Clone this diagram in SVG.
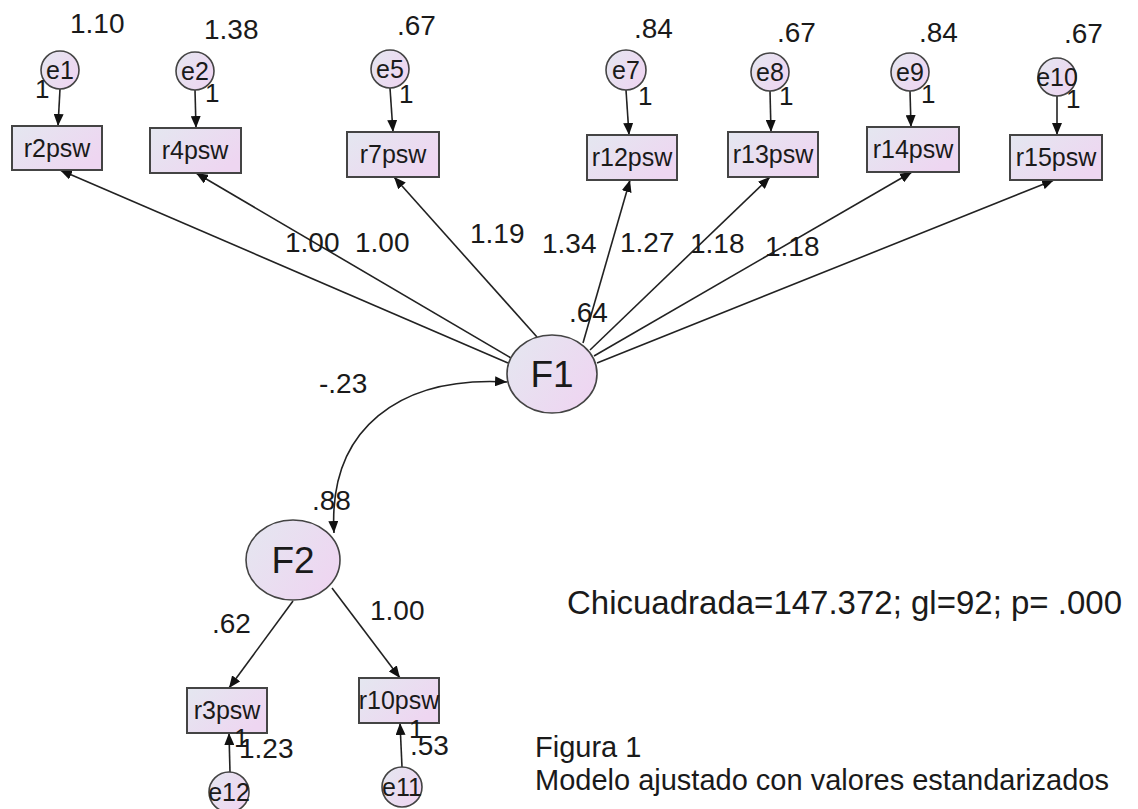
<svg xmlns="http://www.w3.org/2000/svg" width="1138" height="809" viewBox="0 0 1138 809">
<defs>
<linearGradient id="g" x1="0" y1="0" x2="1" y2="0.6">
<stop offset="0" stop-color="#e4e7f0"/>
<stop offset="1" stop-color="#eed6f1"/>
</linearGradient>
<marker id="ah" viewBox="0 0 12 10" refX="12" refY="5" markerWidth="12" markerHeight="10" markerUnits="userSpaceOnUse" orient="auto-start-reverse">
<path d="M0,0 L12,5 L0,10 Z" fill="#111"/>
</marker>
<style>
.box{fill:url(#g);stroke:#444;stroke-width:2}
.ell{fill:url(#g);stroke:#444;stroke-width:1.6}
.lt{font-family:"Liberation Sans",Arial,sans-serif;font-size:25px;fill:#1a1a1a;text-anchor:middle}
.et{font-family:"Liberation Sans",Arial,sans-serif;font-size:25px;fill:#1a1a1a;text-anchor:middle}
.ft{font-family:"Liberation Sans",Arial,sans-serif;font-size:37px;fill:#1a1a1a;text-anchor:middle}
.n{font-family:"Liberation Sans",Arial,sans-serif;font-size:28px;fill:#1a1a1a}
.one{font-family:"Liberation Sans",Arial,sans-serif;font-size:26px;fill:#1a1a1a}
.cap{font-family:"Liberation Sans",Arial,sans-serif;font-size:29px;fill:#1a1a1a}
.chi{font-family:"Liberation Sans",Arial,sans-serif;font-size:33px;fill:#1a1a1a}
.c{stroke:#222;stroke-width:1.6;fill:none;marker-end:url(#ah)}
.cc{stroke:#222;stroke-width:1.6;fill:none;marker-end:url(#ah);marker-start:url(#ah)}
</style>
</defs>
<rect width="1138" height="809" fill="#fff"/>
<g id="connectors">
<path class="c" d="M60,89 L58,126"/>
<path class="c" d="M195,90 L196,128"/>
<path class="c" d="M390,88 L393,132"/>
<path class="c" d="M626,90 L629,135"/>
<path class="c" d="M770,91 L771,132"/>
<path class="c" d="M910,91 L911,127"/>
<path class="c" d="M1057,96 L1057,135"/>
<path class="c" d="M508,363 L60,170"/>
<path class="c" d="M511,358 L196,173"/>
<path class="c" d="M537,337 L394,177"/>
<path class="c" d="M583,343 L630,180"/>
<path class="c" d="M590,350 L770,177"/>
<path class="c" d="M594,356 L912,172"/>
<path class="c" d="M597,363 L1054,180"/>
<path class="cc" d="M334,533 C328,428 400,376 507,382"/>
<path class="c" d="M293,601 L229,688"/>
<path class="c" d="M332,588 L400,678"/>
<path class="c" d="M230,772 L229,733"/>
<path class="c" d="M402,767 L400,723"/>
</g>
<g id="e1"><circle class="ell" cx="60" cy="70" r="19"/><text class="et" x="60" y="79">e1</text></g>
<g id="e2"><circle class="ell" cx="195" cy="71" r="19"/><text class="et" x="195" y="80">e2</text></g>
<g id="e5"><circle class="ell" cx="390" cy="69" r="19"/><text class="et" x="390" y="78">e5</text></g>
<g id="e7"><circle class="ell" cx="626" cy="70" r="20"/><text class="et" x="626" y="79">e7</text></g>
<g id="e8"><circle class="ell" cx="770" cy="72" r="19"/><text class="et" x="770" y="81">e8</text></g>
<g id="e9"><circle class="ell" cx="910" cy="72" r="19"/><text class="et" x="910" y="81">e9</text></g>
<g id="e10"><circle class="ell" cx="1057" cy="77" r="19"/><text class="et" x="1057" y="86">e10</text></g>
<g id="r2psw"><rect class="box" x="12" y="126" width="90" height="44"/><text class="lt" x="57" y="157">r2psw</text></g>
<g id="r4psw"><rect class="box" x="150" y="128" width="91" height="45"/><text class="lt" x="195" y="159">r4psw</text></g>
<g id="r7psw"><rect class="box" x="347" y="132" width="92" height="45"/><text class="lt" x="393" y="163">r7psw</text></g>
<g id="r12psw"><rect class="box" x="587" y="135" width="90" height="45"/><text class="lt" x="632" y="166">r12psw</text></g>
<g id="r13psw"><rect class="box" x="728" y="132" width="90" height="45"/><text class="lt" x="773" y="163">r13psw</text></g>
<g id="r14psw"><rect class="box" x="867" y="127" width="92" height="45"/><text class="lt" x="913" y="158">r14psw</text></g>
<g id="r15psw"><rect class="box" x="1010" y="135" width="92" height="45"/><text class="lt" x="1056" y="166">r15psw</text></g>
<g id="F1"><ellipse class="ell" cx="552" cy="374" rx="45" ry="39"/><text class="ft" x="552" y="387">F1</text></g>
<g id="F2"><ellipse class="ell" cx="293" cy="560" rx="47" ry="40"/><text class="ft" x="293" y="573">F2</text></g>
<g id="r3psw"><rect class="box" x="187" y="688" width="80" height="45"/><text class="lt" x="227" y="719">r3psw</text></g>
<g id="r10psw"><rect class="box" x="359" y="678" width="80" height="45"/><text class="lt" x="399" y="709">r10psw</text></g>
<g id="e12"><circle class="ell" cx="229" cy="792" r="20"/><text class="et" x="229" y="801">e12</text></g>
<g id="e11"><circle class="ell" cx="402" cy="787" r="20"/><text class="et" x="402" y="796">e11</text></g>
<g id="labels">
<text class="n" x="70" y="33">1.10</text>
<text class="n" x="204" y="39">1.38</text>
<text class="n" x="397" y="35">.67</text>
<text class="n" x="634" y="38">.84</text>
<text class="n" x="777" y="42">.67</text>
<text class="n" x="919" y="42">.84</text>
<text class="n" x="1064" y="43">.67</text>
<text class="one" x="35" y="98">1</text>
<text class="one" x="205" y="102">1</text>
<text class="one" x="399" y="103">1</text>
<text class="one" x="638" y="105">1</text>
<text class="one" x="779" y="105">1</text>
<text class="one" x="921" y="103">1</text>
<text class="one" x="1066" y="108">1</text>
<text class="n" x="285" y="252">1.00</text>
<text class="n" x="355" y="252">1.00</text>
<text class="n" x="470" y="243">1.19</text>
<text class="n" x="542" y="253">1.34</text>
<text class="n" x="620" y="252">1.27</text>
<text class="n" x="690" y="253">1.18</text>
<text class="n" x="765" y="256">1.18</text>
<text class="n" x="569" y="322">.64</text>
<text class="n" x="319" y="393">-.23</text>
<text class="n" x="312" y="510">.88</text>
<text class="n" x="212" y="633">.62</text>
<text class="n" x="370" y="620">1.00</text>
<text class="one" x="234" y="747">1</text>
<text class="n" x="239" y="758">1.23</text>
<text class="one" x="409" y="738">1</text>
<text class="n" x="410" y="755">.53</text>
<text class="chi" x="567" y="614">Chicuadrada=147.372; gl=92; p= .000</text>
<text class="cap" x="535" y="757">Figura 1</text>
<text class="cap" x="535" y="790">Modelo ajustado con valores estandarizados</text>
</g>
</svg>
